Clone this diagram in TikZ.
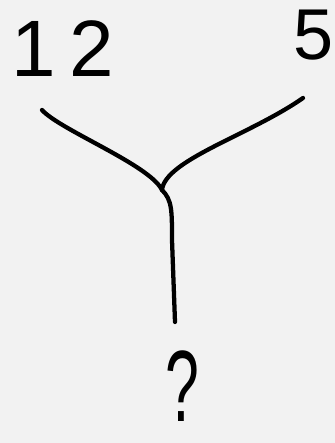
\documentclass[tikz,border=0pt]{standalone}
\usepackage{fontspec}
\setmainfont{Liberation Sans}
\definecolor{bg}{HTML}{F2F2F2}
\begin{document}
\begin{tikzpicture}[x=0.75pt,y=-0.75pt,
  ink/.style={line width=3.2pt,line cap=round,line join=round,black},
  lbl/.style={inner sep=0pt,text=black}]
\fill[bg] (0,0) rectangle (335,443);
\useasboundingbox (0,0) rectangle (335,443);
\node[lbl,font=\fontsize{60}{68}\selectfont] (n12) at (63,49) {1\hspace{10pt}2};
\node[lbl,font=\fontsize{54}{62}\selectfont] (n5) at (314,35) {5};
\node[lbl,font=\fontsize{76}{86}\selectfont] (q) at (182,386) {\scalebox{0.6}[1]{?}};
\coordinate (a) at (42,110);
\coordinate (b) at (303,98);
\coordinate (j) at (162,190);
\coordinate (c) at (175,322);
\draw[ink] (a) .. controls (60,130) and (150,165) .. (j);
\draw[ink] (b) .. controls (250,135) and (165,160) .. (j);
\draw[ink] (j) .. controls (172,200) and (172,210) .. (172,240) -- (c);
\end{tikzpicture}
\end{document}
